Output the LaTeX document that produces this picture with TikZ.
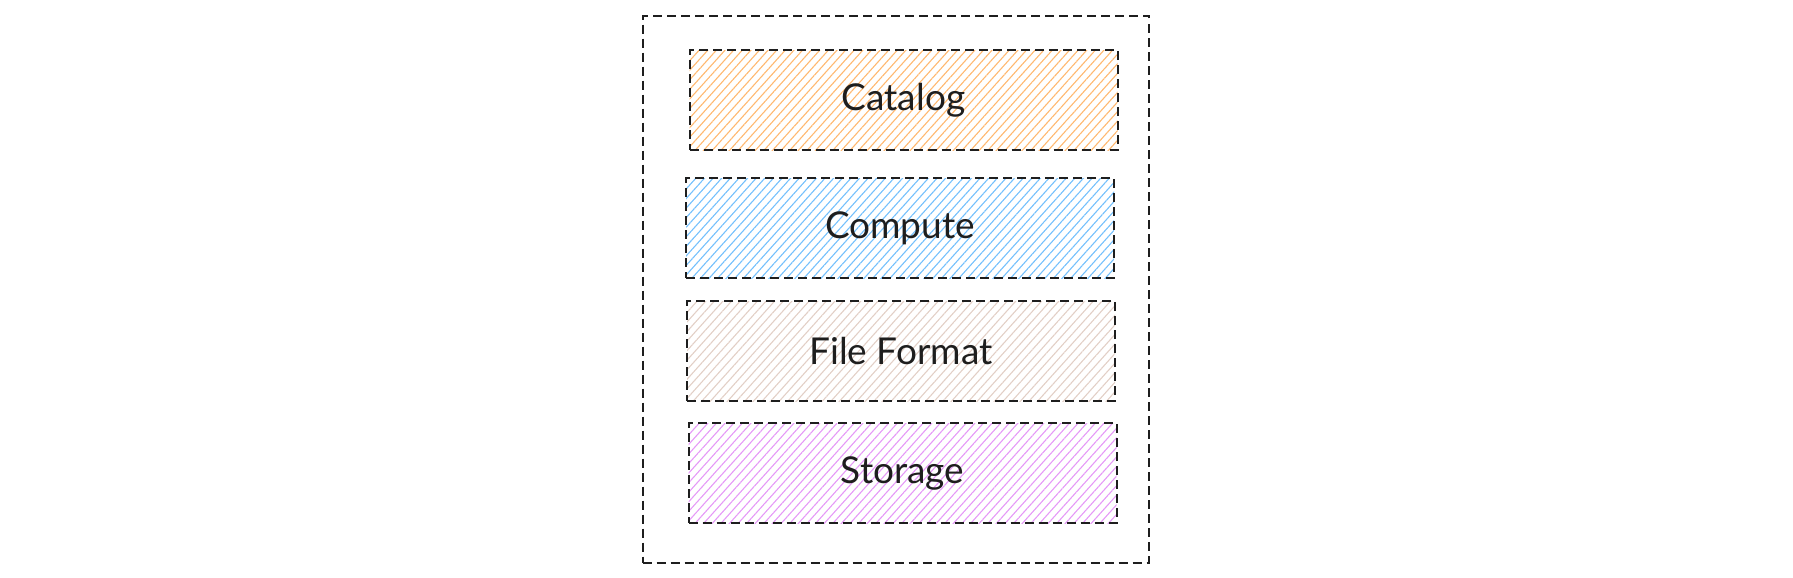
\documentclass[tikz,border=0pt]{standalone}
\usepackage{fontspec}
\setmainfont{Lato}
\usetikzlibrary{patterns.meta}
\definecolor{ink}{HTML}{1E1E1E}
\definecolor{catalogc}{HTML}{FFB870}
\definecolor{computec}{HTML}{74C0FC}
\definecolor{formatc}{HTML}{E2CFC6}
\definecolor{storagec}{HTML}{E599F7}
\tikzset{
  dashbox/.style={draw=ink,line width=1pt,dash pattern=on 4.5pt off 2.5pt},
  layer/.style={dashbox,minimum width=214pt,minimum height=50pt,
    font=\fontsize{18.5}{22}\selectfont,text=ink,
    pattern={Lines[angle=48,distance=3.2pt,line width=0.55pt]},pattern color=#1}
}
\begin{document}
\begin{tikzpicture}[x=0.5pt,y=-0.5pt]
  \useasboundingbox (0,0) rectangle (1793,578);
  \node[dashbox,minimum width=253pt,minimum height=273.5pt] (stack) at (895.5,289) {};
  \node[layer=catalogc] (catalog) at (903.5,100) {Catalog};
  \node[layer=computec] (compute) at (900,228) {Compute};
  \node[layer=formatc]  (format)  at (901,351) {File Format};
  \node[layer=storagec] (storage) at (902.5,473) {Storage};
\end{tikzpicture}
\end{document}
